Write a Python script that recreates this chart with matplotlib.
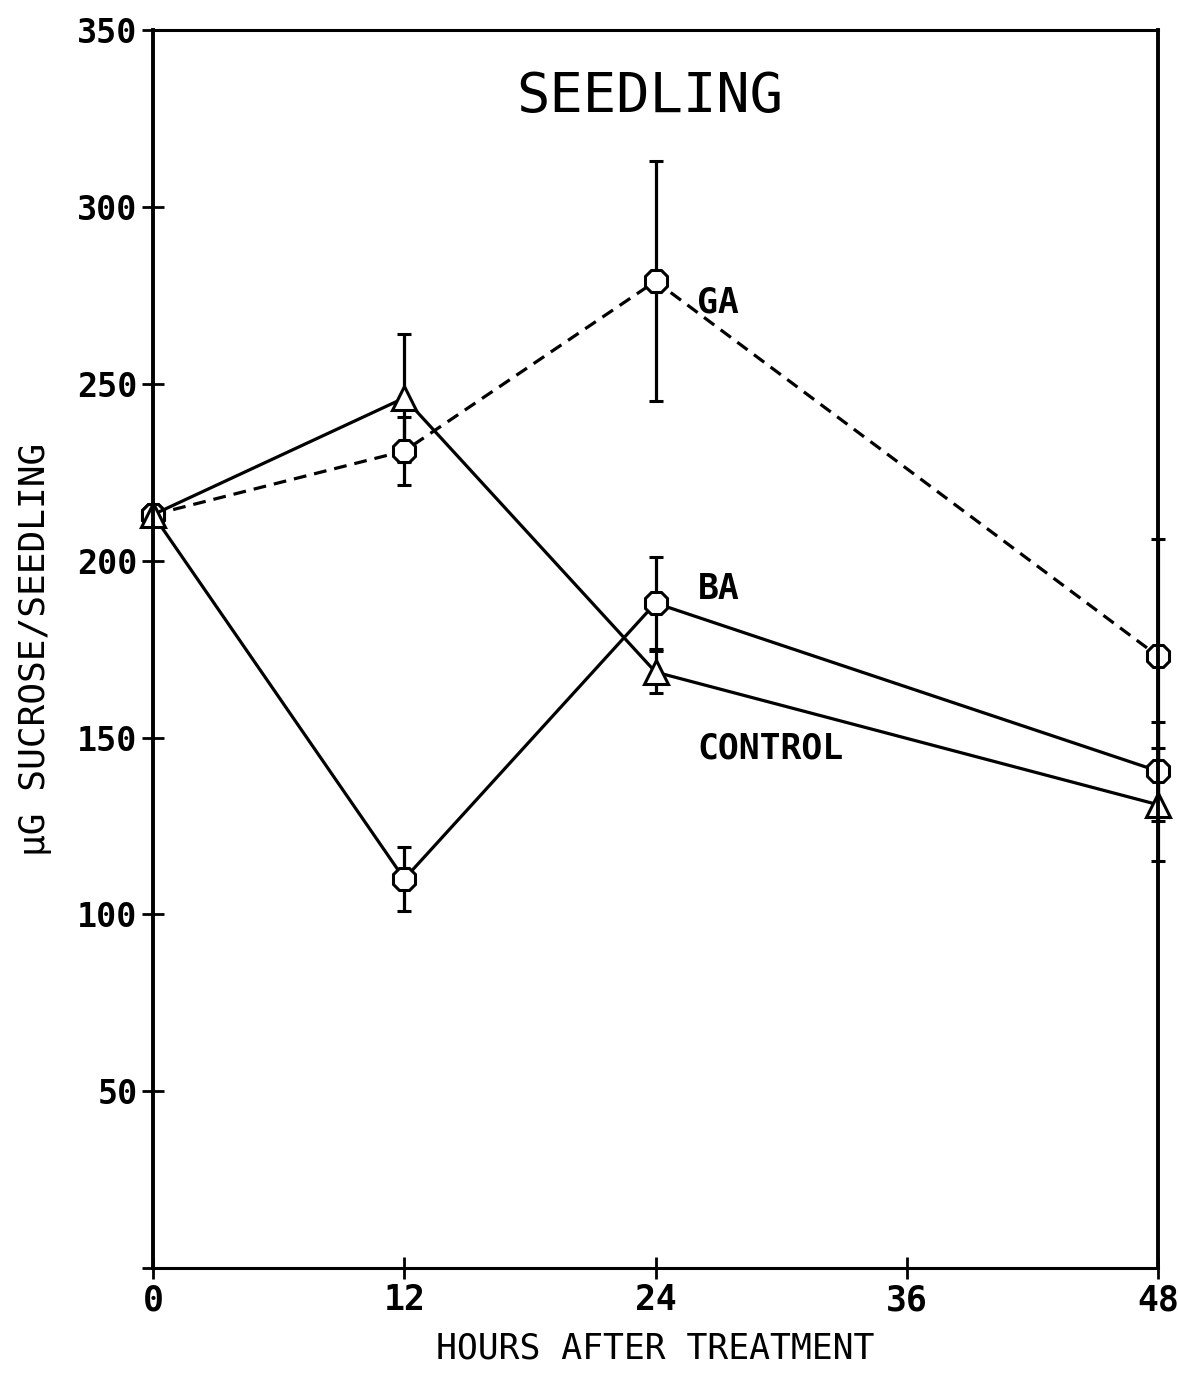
import numpy as np
import matplotlib
matplotlib.use("Agg")
import matplotlib.pyplot as plt

# values
hours = [0, 12, 24, 48]
ga = [213, 231, 279, 173]
ga_err = [0, 9.5, 34, 33]
ba = [213, 110, 188, 140.5]
ba_err = [0, 9, 13, 14]
control = [213, 246, 168.5, 131]
control_err = [0, 18, 6, 16]

xticks = [0, 12, 24, 36, 48]
yticks = [0, 50, 100, 150, 200, 250, 300, 350]
ytick_labels = ["", "50", "100", "150", "200", "250", "300", "350"]

mono = "DejaVu Sans Mono"

fig = plt.figure(figsize=(11.78, 13.74), dpi=100)
ax = fig.add_axes([0.1299, 0.0771, 0.8532, 0.9010])

common = dict(color="black", lw=2.3, mew=2.2, mfc="white", ms=17,
              elinewidth=2.3, capsize=5, capthick=2.3, clip_on=False)

# GA, dashed
eb = ax.errorbar(hours, ga, yerr=ga_err, marker="8", ls=(0, (4, 2.5)), **common)
for art in eb.lines[1] + eb.lines[2]:
    art.set_clip_on(False)
# BA
eb = ax.errorbar(hours, ba, yerr=ba_err, marker="8", ls="-", **common)
for art in eb.lines[1] + eb.lines[2]:
    art.set_clip_on(False)
# control
eb = ax.errorbar(hours, control, yerr=control_err, marker="^", ls="-", **common)
for art in eb.lines[1] + eb.lines[2]:
    art.set_clip_on(False)

ax.set_xlim(0, 48)
ax.set_ylim(0, 350)
ax.set_xticks(xticks)
ax.set_xticklabels([str(t) for t in xticks], fontfamily=mono, fontsize=25, fontweight="bold")
ax.set_yticks(yticks)
ax.set_yticklabels(ytick_labels, fontfamily=mono, fontsize=24, fontweight="bold")
ax.tick_params(direction="inout", length=16, width=2, pad=3)

for side in ["left", "right"]:
    ax.spines[side].set_linewidth(2.8)
for side in ["top", "bottom"]:
    ax.spines[side].set_linewidth(2.2)

ax.set_xlabel("HOURS AFTER TREATMENT", fontfamily=mono, fontsize=25, labelpad=10)
ax.set_ylabel("µG SUCROSE/SEEDLING", fontfamily=mono, fontsize=26, labelpad=18)

ax.text(23.7, 331, "SEEDLING", fontfamily=mono, fontsize=40, ha="center", va="center")
ax.text(26.0, 273, "GA", fontfamily=mono, fontsize=25, fontweight="bold", va="center")
ax.text(26.0, 192, "BA", fontfamily=mono, fontsize=25, fontweight="bold", va="center")
ax.text(26.0, 147, "CONTROL", fontfamily=mono, fontsize=25, fontweight="bold", va="center")

fig.savefig("out.png", dpi=100, facecolor="white")
